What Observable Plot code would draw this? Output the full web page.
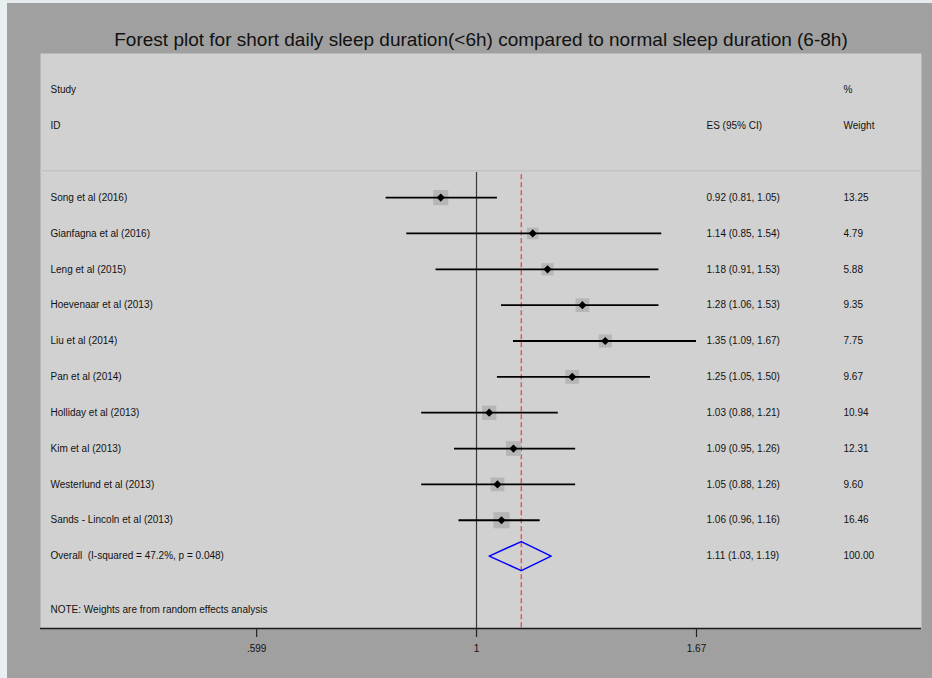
<!DOCTYPE html>
<html>
<head>
<meta charset="utf-8">
<script src="https://cdn.jsdelivr.net/npm/d3@7"></script>
<script src="https://cdn.jsdelivr.net/npm/@observablehq/plot@0.6"></script>
<style>
  html, body { margin: 0; padding: 0; background: #a0a0a0; }
  #wrap { position: relative; width: 932px; height: 678px; background: #a0a0a0; overflow: hidden; font-family: "Liberation Sans", Arial, sans-serif; }
  #topstrip { position: absolute; left: 0; top: 0; width: 932px; height: 3px; background: #e6ecee; }
  #leftstrip { position: absolute; left: 0; top: 0; width: 7px; height: 678px; background: #e9eef0; }
  #title { position: absolute; left: 0; top: 28px; width: 962px; text-align: center; font-size: 19px; line-height: 24px; color: #111; }
  #chart { position: absolute; left: 0; top: 53px; }
</style>
</head>
<body>
<div id="wrap">
  <div id="topstrip"></div>
  <div id="leftstrip"></div>
  <div id="title">Forest plot for short daily sleep duration(&lt;6h) compared to normal sleep duration (6-8h)</div>
  <div id="chart"></div>
</div>
<script>
// ---- data ----
const studies = ["Song et al (2016)", "Gianfagna et al (2016)", "Leng et al (2015)", "Hoevenaar et al (2013)", "Liu et al (2014)", "Pan et al (2014)", "Holliday et al (2013)", "Kim et al (2013)", "Westerlund et al (2013)", "Sands - Lincoln et al (2013)"];
const es      = [0.92, 1.14, 1.18, 1.28, 1.35, 1.25, 1.03, 1.09, 1.05, 1.06];
const ciLow   = [0.81, 0.85, 0.91, 1.06, 1.09, 1.05, 0.88, 0.95, 0.88, 0.96];
const ciHigh  = [1.05, 1.54, 1.53, 1.53, 1.67, 1.50, 1.21, 1.26, 1.26, 1.16];
const weights = [13.25, 4.79, 5.88, 9.35, 7.75, 9.67, 10.94, 12.31, 9.60, 16.46];
const overallLabel = "Overall  (I-squared = 47.2%, p = 0.048)";
const overallES = 1.11, overallLow = 1.03, overallHigh = 1.19, overallWeight = 100.00;
const noteText = "NOTE: Weights are from random effects analysis";
const tickValues = [0.599, 1, 1.67];
const tickLabels = [".599", "1", "1.67"];

// ---- layout rows (row units) ----
const ROW_TOP = -4.02, ROW_BOTTOM = 12.02;
const fmt = v => v.toFixed(2);
const rows = studies.map((s, i) => ({
  row: i, study: s, es: es[i], lo: ciLow[i], hi: ciHigh[i], weight: weights[i],
  esText: `${fmt(es[i])} (${fmt(ciLow[i])}, ${fmt(ciHigh[i])})`,
  wText: fmt(weights[i])
}));
const overallRow = studies.length;
const overall = [{
  row: overallRow, study: overallLabel, es: overallES, lo: overallLow, hi: overallHigh,
  esText: `${fmt(overallES)} (${fmt(overallLow)}, ${fmt(overallHigh)})`,
  wText: fmt(overallWeight)
}];
const dh = 0.405;
const diamond = [
  {x: overallLow, y: overallRow}, {x: overallES, y: overallRow - dh},
  {x: overallHigh, y: overallRow}, {x: overallES, y: overallRow + dh},
  {x: overallLow, y: overallRow}
];
const headers = [
  {row: -3, text: "Study", col: "id"}, {row: -2, text: "ID", col: "id"},
  {row: -2, text: "ES (95% CI)", col: "es"},
  {row: -3, text: "%", col: "w"}, {row: -2, text: "Weight", col: "w"}
];
const allRows = rows.concat(overall);
const txt = {frameAnchor: "left", textAnchor: "start", fill: "#111", fontSize: 10};

const chart = Plot.plot({
  width: 932, height: 625,
  marginTop: 0, marginBottom: 50, marginLeft: 40, marginRight: 11,
  style: {background: "transparent", fontFamily: '"Liberation Sans", Arial, sans-serif', fontSize: "10px", color: "#111", overflow: "visible"},
  x: {type: "log", domain: [0.3619, 2.8216]},
  y: {domain: [ROW_TOP, ROW_BOTTOM], reverse: true, axis: null},
  r: {type: "sqrt", domain: [0, 17], range: [3.5, 9.2]},
  marks: [
    Plot.frame({fill: "#d1d1d1", stroke: "none"}),
    Plot.ruleY([-0.75], {stroke: "#c3c3c3", strokeWidth: 1.5}),
    Plot.ruleX([1], {y1: -0.7, y2: ROW_BOTTOM, stroke: "#3a3a3a", strokeWidth: 1.2}),
    Plot.ruleX([overallES], {y1: -0.64, y2: ROW_BOTTOM, stroke: "#e45858", strokeWidth: 1.5, strokeDasharray: "5,3"}),
    Plot.dot(rows, {x: "es", y: "row", r: "weight", symbol: "square", fill: "#b6b6b6"}),
    Plot.ruleY(rows, {y: "row", x1: "lo", x2: "hi", stroke: "#000", strokeWidth: 1.8}),
    Plot.dot(rows, {x: "es", y: "row", symbol: "diamond2", r: 3.7, fill: "#000"}),
    Plot.line(diamond, {x: "x", y: "y", stroke: "#0000ff", strokeWidth: 1.5}),
    Plot.ruleY([ROW_BOTTOM], {stroke: "#1a1a1a", strokeWidth: 1.5}),
    Plot.axisX({ticks: tickValues, tickFormat: (d, i) => tickLabels[tickValues.indexOf(d)], tickSize: 9, tickPadding: 7, fontSize: 10, stroke: "#222", strokeWidth: 1.2, fill: "#111"}),
    Plot.text(headers.filter(d => d.col === "id"), {...txt, y: "row", text: "text", dx: 10}),
    Plot.text(headers.filter(d => d.col === "es"), {...txt, y: "row", text: "text", dx: 666}),
    Plot.text(headers.filter(d => d.col === "w"), {...txt, y: "row", text: "text", dx: 803}),
    Plot.text(allRows, {...txt, y: "row", text: "study", dx: 10}),
    Plot.text(allRows, {...txt, y: "row", text: "esText", dx: 666}),
    Plot.text(allRows, {...txt, y: "row", text: "wText", dx: 803}),
    Plot.text([noteText], {...txt, y: [11.5], text: d => d, dx: 10})
  ]
});
document.getElementById("chart").appendChild(chart);
</script>
</body>
</html>
